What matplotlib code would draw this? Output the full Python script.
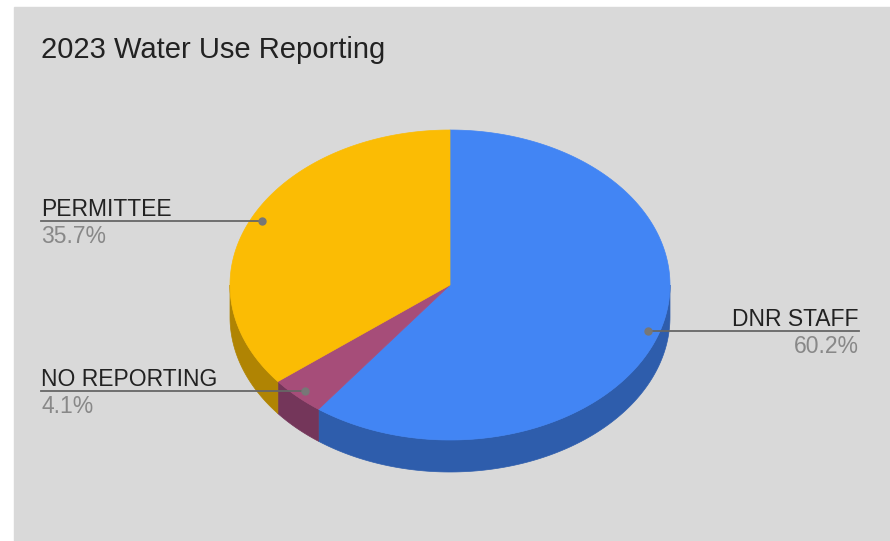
import numpy as np
import matplotlib
matplotlib.use("Agg")
import matplotlib.pyplot as plt
from matplotlib.patches import Polygon, Rectangle

plt.rcParams["font.family"] = ["Liberation Sans", "DejaVu Sans"]

title = "2023 Water Use Reporting"
labels = ["DNR STAFF", "NO REPORTING", "PERMITTEE"]
values = [60.2, 4.1, 35.7]
top_colors = ["#4285F4", "#A64D79", "#FBBC04"]
side_colors = ["#2E5DAC", "#74365A", "#B08403"]

fig = plt.figure(figsize=(8.9, 5.41), dpi=100)
ax = fig.add_axes([0, 0, 1, 1])
ax.set_xlim(0, 890)
ax.set_ylim(541, 0)
ax.axis("off")
ax.add_patch(Rectangle((14, 7), 876, 534, color="#D9D9D9", zorder=0))

# pie geometry in pixels
cx, cy, rx, ry, depth = 450, 285, 220, 155, 32


def ell(theta, scale=1.0, dy=0.0):
    return cx + rx * scale * np.sin(theta), cy - ry * scale * np.cos(theta) + dy


vals = np.array(values, dtype=float)
frac = vals / vals.sum()
ends = np.cumsum(frac) * 2 * np.pi
starts = ends - frac * 2 * np.pi

# side walls (front half only)
for a, b, col in zip(starts, ends, side_colors):
    lo, hi = max(a, np.pi / 2), min(b, 3 * np.pi / 2)
    if hi <= lo:
        continue
    t = np.linspace(lo, hi, 120)
    xt, yt = ell(t)
    xb, yb = ell(t[::-1], dy=depth)
    pts = np.column_stack([np.r_[xt, xb], np.r_[yt, yb]])
    ax.add_patch(Polygon(pts, closed=True, fc=col, ec=col, lw=0.5, zorder=1))

# top faces
for a, b, col in zip(starts, ends, top_colors):
    t = np.linspace(a, b, 200)
    xt, yt = ell(t)
    pts = np.column_stack([np.r_[cx, xt], np.r_[cy, yt]])
    ax.add_patch(Polygon(pts, closed=True, fc=col, ec=col, lw=0.5, zorder=2))

ax.text(41, 58, title, fontsize=21, color="#222222", ha="left", va="baseline")

# labels with leader lines
for a, b, lab, v in zip(starts, ends, labels, frac):
    mid = (a + b) / 2
    dx, dy = ell(mid, scale=0.95)
    if np.sin(mid) > 0:
        tx, ha = 859, "right"
    else:
        tx, ha = 41, "left"
    ax.plot([dx, tx], [dy, dy], color="#666666", lw=1.3, zorder=3)
    ax.plot(dx, dy, "o", ms=5, color="#777777", zorder=4)
    ax.text(tx, dy - 5, lab, fontsize=16.5, color="#222222", ha=ha, va="baseline")
    ax.text(tx, dy + 22, f"{v * 100:.1f}%", fontsize=16.5, color="#888888",
            ha=ha, va="baseline")

fig.savefig("out.png", dpi=100, facecolor="white")
